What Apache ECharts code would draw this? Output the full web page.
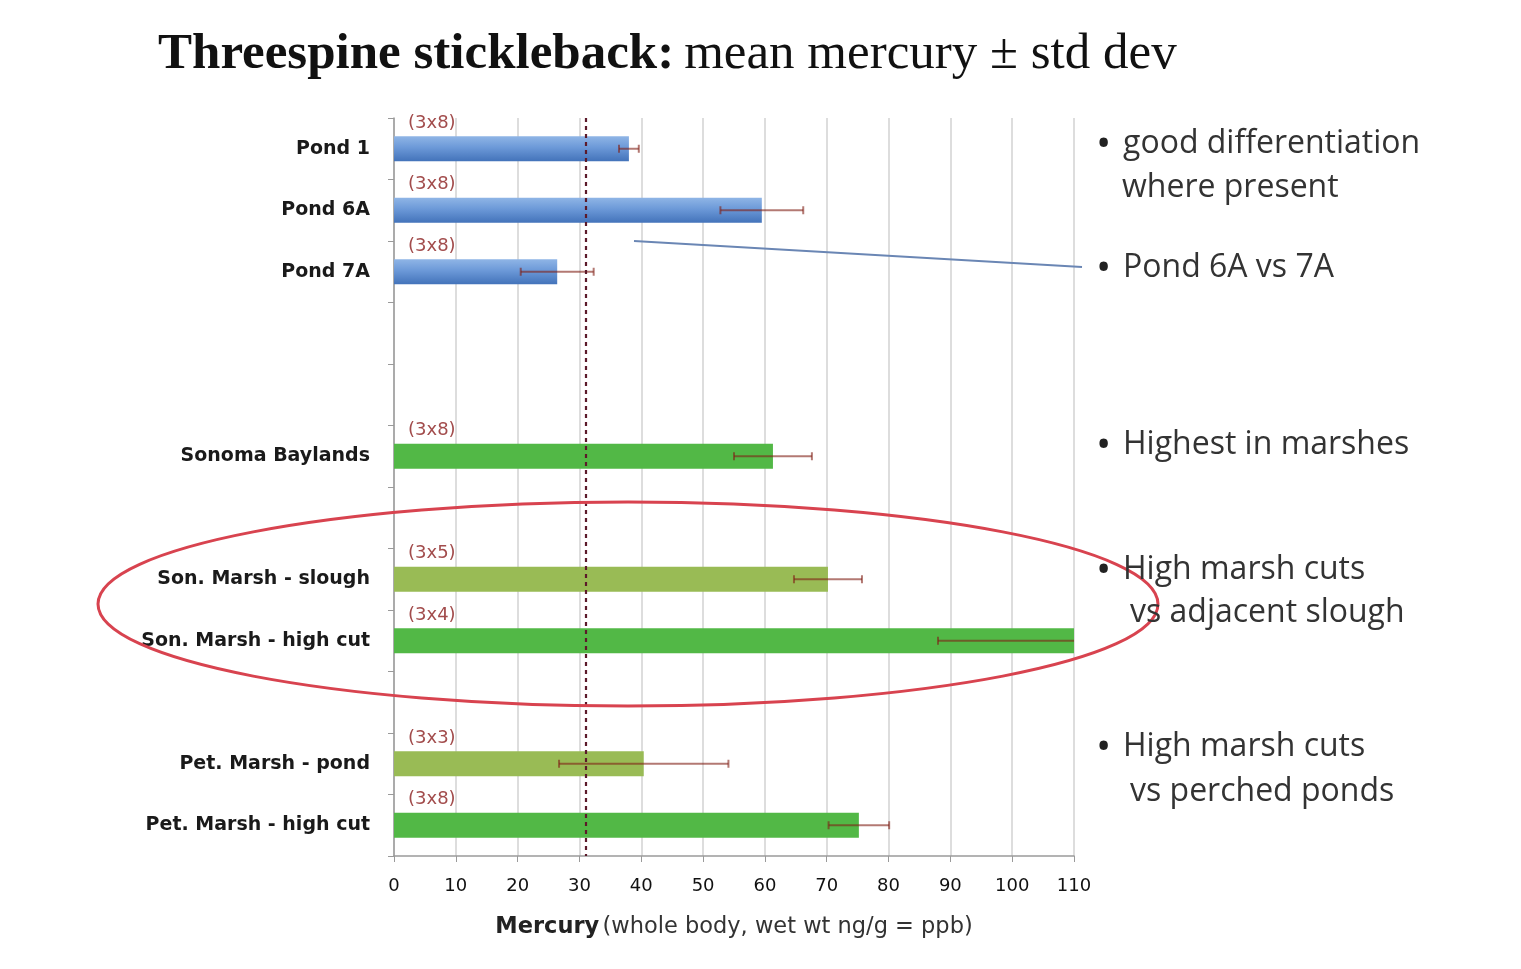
<!DOCTYPE html>
<html>
<head>
<meta charset="utf-8">
<script src="https://cdn.jsdelivr.net/npm/echarts@6/dist/echarts.min.js"></script>
<style>
  html, body { margin: 0; padding: 0; background: #ffffff; }
  #chart { width: 1521px; height: 969px; }
</style>
</head>
<body>
<div id="chart"></div>
<script>
// Sites, top to bottom; blank entries keep the gaps between site groups
const sites = ['Pond 1', 'Pond 6A', 'Pond 7A', ' ', '  ', 'Sonoma Baylands', '   ',
  'Son. Marsh - slough', 'Son. Marsh - high cut', '    ', 'Pet. Marsh - pond', 'Pet. Marsh - high cut'];
// Mean whole-body mercury (ng/g wet wt)
const meanHg = [38, 59.5, 26.4, null, null, 61.3, null, 70.2, 110, null, 40.4, 75.2];
// Standard deviation
const stdDevHg = [1.6, 6.7, 5.9, null, null, 6.3, null, 5.5, 22, null, 13.7, 4.9];
// Sampling design shown above each bar
const sampleSizes = ['(3x8)', '(3x8)', '(3x8)', null, null, '(3x8)', null, '(3x5)', '(3x4)', null, '(3x3)', '(3x8)'];
// Habitat type of each site
const habitat = ['pond', 'pond', 'pond', null, null, 'marsh', null, 'channel', 'marsh', null, 'channel', 'marsh'];
// Reference level marked by the dashed line
const referenceHg = 31;
// Value-axis ticks
const xTicks = [0, 10, 20, 30, 40, 50, 60, 70, 80, 90, 100, 110];
// Side notes: [bullet line, continuation line]
const notes = [
  ['good differentiation', 'where present'],
  ['Pond 6A vs 7A', null],
  ['Highest in marshes', null],
  ['High marsh cuts', 'vs adjacent slough'],
  ['High marsh cuts', 'vs perched ponds']
];

const habitatFill = {
  pond: new echarts.graphic.LinearGradient(0, 0, 0, 1, [
    { offset: 0, color: '#8fb5e6' },
    { offset: 0.45, color: '#6c99d8' },
    { offset: 1, color: '#4373ba' }
  ]),
  marsh: '#52b846',
  channel: '#99bb55'
};

const barData = meanHg.map((v, i) => v == null ? null : {
  value: v,
  itemStyle: { color: habitatFill[habitat[i]] },
  label: { formatter: sampleSizes[i] }
});

const errData = meanHg.map((v, i) => v == null ? null : [i, v, stdDevHg[i]]).filter(d => d);

const chart = echarts.init(document.getElementById('chart'), null, { renderer: 'canvas' });

const wideFont = '"DejaVu Sans", "Open Sans", sans-serif';
const noteFont = '"Open Sans", "DejaVu Sans", sans-serif';

// Side-note text layout
const noteY = [[144, 188], [268], [445], [570, 613], [747, 792]];
const noteGraphics = [];
notes.forEach((n, k) => {
  noteGraphics.push({ type: 'text', x: 1098, y: noteY[k][0],
    style: { text: '\u2022', font: 'bold 30px ' + noteFont, fill: '#222', verticalAlign: 'middle' }, z: 11 });
  noteGraphics.push({ type: 'text', x: 1123, y: noteY[k][0],
    style: { text: n[0], font: '32px ' + noteFont, fill: '#333', verticalAlign: 'middle' }, z: 11 });
  if (n[1]) {
    noteGraphics.push({ type: 'text', x: k === 0 ? 1122 : 1130, y: noteY[k][1],
      style: { text: n[1], font: '32px ' + noteFont, fill: '#333', verticalAlign: 'middle' }, z: 11 });
  }
});

chart.setOption({
  backgroundColor: '#ffffff',
  animation: false,
  title: {
    left: 153,
    top: 24,
    text: '{b|Threespine stickleback:}  {n|mean mercury \u00b1 std dev}',
    textStyle: {
      rich: {
        b: { fontFamily: '"Liberation Serif", "Times New Roman", serif', fontWeight: 'bold', fontSize: 51, color: '#111' },
        n: { fontFamily: '"Liberation Serif", "Times New Roman", serif', fontWeight: 'normal', fontSize: 51, color: '#111' }
      }
    }
  },
  grid: { left: 394, right: 447, top: 118, bottom: 113, containLabel: false },
  xAxis: {
    type: 'value',
    min: xTicks[0],
    max: xTicks[xTicks.length - 1],
    interval: 10,
    axisLine: { show: true, lineStyle: { color: '#9a9a9a', width: 1.5 } },
    axisTick: { show: true, length: 6, lineStyle: { color: '#9a9a9a' } },
    axisLabel: { color: '#111', fontFamily: wideFont, fontSize: 18, fontWeight: 'normal', margin: 21 },
    splitLine: { show: true, lineStyle: { color: '#d2d2d2', width: 1.5 } },
    name: '{b|Mercury} {n|(whole body, wet wt ng/g = ppb)}',
    nameLocation: 'middle',
    nameGap: 60,
    nameTextStyle: {
      rich: {
        b: { fontFamily: wideFont, fontWeight: 'bold', fontSize: 22.5, color: '#222' },
        n: { fontFamily: wideFont, fontWeight: 'normal', fontSize: 22.5, color: '#333' }
      }
    }
  },
  yAxis: {
    type: 'category',
    data: sites,
    inverse: true,
    axisLine: { show: true, lineStyle: { color: '#9a9a9a', width: 1.5 } },
    axisTick: { show: true, length: 6, lineStyle: { color: '#9a9a9a' } },
    axisLabel: { color: '#1a1a1a', fontFamily: wideFont, fontSize: 19, fontWeight: 'bold', margin: 24 },
    splitLine: { show: false }
  },
  series: [
    {
      type: 'bar',
      data: barData,
      barWidth: 25,
      label: {
        show: true,
        position: [14, -13],
        verticalAlign: 'middle',
        align: 'left',
        color: '#a24c4c',
        fontFamily: wideFont,
        fontSize: 18
      },
      markLine: {
        silent: true,
        symbol: 'none',
        label: { show: false },
        lineStyle: { color: '#5c1a2a', type: [4, 4], width: 2.2 },
        data: [{ xAxis: referenceHg }]
      },
      z: 2
    },
    {
      type: 'custom',
      clip: true,
      data: errData,
      z: 4,
      renderItem: function (params, api) {
        const cat = api.value(0);
        const m = api.value(1);
        const sd = api.value(2);
        const lo = api.coord([m - sd, cat]);
        const hi = api.coord([m + sd, cat]);
        const cap = 4;
        const style = { stroke: 'rgba(128,32,22,0.6)', lineWidth: 2, fill: null };
        return {
          type: 'group',
          children: [
            { type: 'line', shape: { x1: lo[0], y1: lo[1], x2: hi[0], y2: hi[1] }, style: style },
            { type: 'line', shape: { x1: lo[0], y1: lo[1] - cap, x2: lo[0], y2: lo[1] + cap }, style: style },
            { type: 'line', shape: { x1: hi[0], y1: hi[1] - cap, x2: hi[0], y2: hi[1] + cap }, style: style }
          ]
        };
      }
    }
  ],
  graphic: [
    // Callout from the pond bars to the side note
    { type: 'line', shape: { x1: 634, y1: 241, x2: 1082, y2: 267 },
      style: { stroke: '#6a86b4', lineWidth: 2.2 }, z: 10 },
    // Ring around the Sonoma marsh pair
    { type: 'ellipse', shape: { cx: 628, cy: 604, rx: 530, ry: 102 },
      style: { stroke: '#d8434f', lineWidth: 3, fill: null }, z: 10 }
  ].concat(noteGraphics)
});
</script>
</body>
</html>
